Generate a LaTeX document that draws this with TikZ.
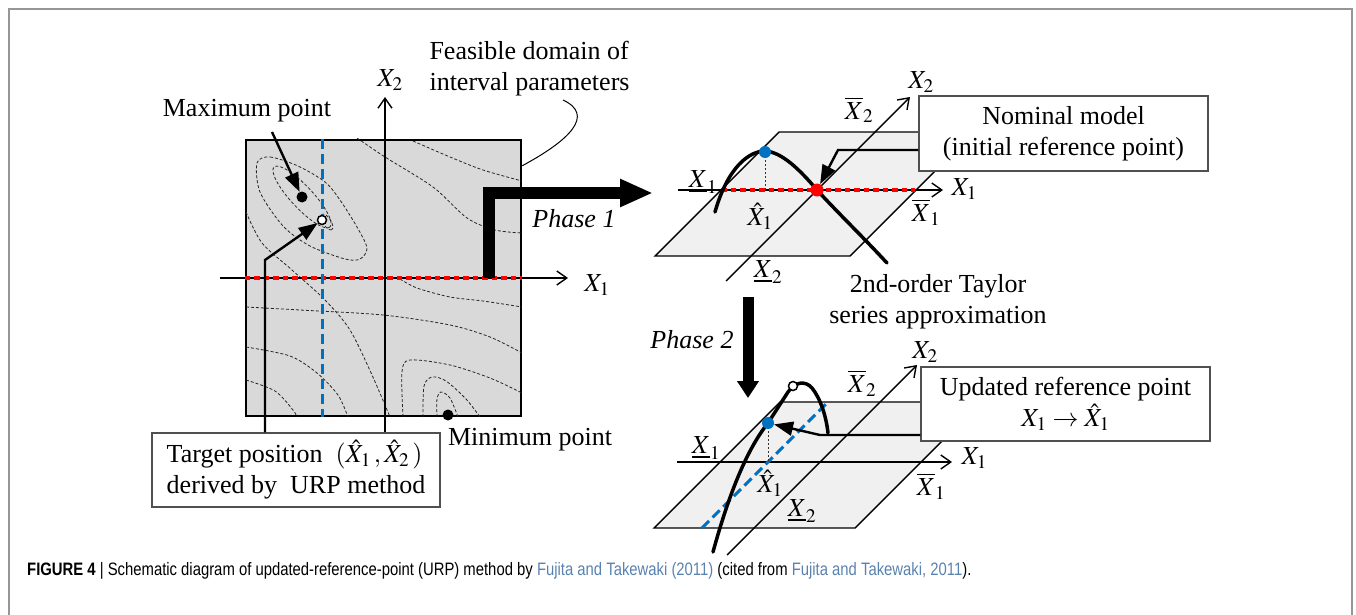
\documentclass[tikz,border=0pt]{standalone}
\usepackage{mathptmx}
\usepackage[no-math]{fontspec}
\setmainfont{Liberation Serif}
\newfontfamily\capfont[FakeStretch=0.825]{Liberation Sans}
\usetikzlibrary{arrows.meta,positioning,calc}
\definecolor{framegrey}{RGB}{150,150,150}
\definecolor{domgrey}{RGB}{217,217,217}
\definecolor{planegrey}{RGB}{240,240,240}
\definecolor{boxgrey}{RGB}{80,80,80}
\definecolor{dotred}{RGB}{255,0,0}
\definecolor{dotblue}{RGB}{0,112,192}
\definecolor{linkcol}{RGB}{90,130,175}
\tikzset{
  domainbox/.style={draw=black,fill=domgrey,line width=2.5pt,minimum width=275pt,
                    minimum height=276pt,inner sep=0pt},
  contour/.style={draw=black!85,dash pattern=on 3pt off 2pt,line width=0.8pt},
  axis/.style={-{Straight Barb[length=10pt,width=14pt]},line width=1.4pt},
  plane/.style={draw=black,fill=planegrey,line width=1.4pt},
  fcurve/.style={line width=3.5pt,line cap=round},
  pointer/.style={-{Triangle[length=19pt,width=14pt]},line width=2.4pt},
  phase/.style={line width=12pt},
  infobox/.style={draw=boxgrey,fill=white,line width=1.5pt,align=center,inner sep=0pt},
  reddots/.style={draw=dotred,line width=4.5pt,dash pattern=on 5.5pt off 4pt},
  bluedash/.style={draw=dotblue,line width=3pt,dash pattern=on 10pt off 5pt},
  thindot/.style={draw=black!80,line width=0.8pt,dash pattern=on 2pt off 2pt},
  leader/.style={draw=black,line width=1pt},
  bdot/.style={circle,fill=black,minimum size=11pt,inner sep=0pt},
  wdot/.style={circle,draw=black,fill=white,line width=1.5pt,minimum size=9pt,inner sep=0pt},
  reddot/.style={circle,fill=dotred,minimum size=13pt,inner sep=0pt},
  bluedot/.style={circle,fill=dotblue,minimum size=12pt,inner sep=0pt},
}

\begin{document}
\begin{tikzpicture}[x=1pt,y=-1pt,font=\fontsize{26}{31}\selectfont,line join=miter]
  \useasboundingbox (0,0) rectangle (1356,615);
  \draw[framegrey,line width=1.5pt] (9,615) -- (9,9) -- (1352,9) -- (1352,615);

  % left panel: feasible domain with contours
  \node[domainbox] (domain) at (383.5,278) {};
  \begin{scope}
    \clip (domain.south west) rectangle (domain.north east);
    \draw[contour,rotate around={-47:(302,197)}] (302,197) ellipse [x radius=41, y radius=11];
    \draw[contour,rotate around={-58:(327,222)}] (327,222) ellipse [x radius=9, y radius=4];
    \draw[contour] plot[smooth cycle] coordinates {(257,163) (270,157) (298,166) (325,182)
      (340,200) (357,227) (367,248) (360,259) (345,259) (310,246) (283,226) (260,192)};
    \draw[contour] plot[smooth] coordinates {(246,212) (262,243) (292,270) (325,300)
      (350,330) (372,375) (390,417)};
    \draw[contour] plot[smooth] coordinates {(357,138) (385,157) (433,187) (467,218)
      (495,230) (522,233)};
    \draw[contour] plot[smooth] coordinates {(413,141) (450,157) (483,170) (522,181)};
    \draw[contour] plot[smooth] coordinates {(400,279) (417,288) (450,297) (483,301) (522,307)};
    \draw[contour] plot[smooth] coordinates {(246,307) (300,310) (383,315) (450,325)
      (490,337) (522,353)};
    \draw[contour] plot[smooth] coordinates {(246,347) (290,356) (317,373) (338,395) (348,417)};
    \draw[contour] plot[smooth] coordinates {(246,380) (275,391) (293,410) (297,417)};
    \draw[contour] plot[smooth] coordinates {(403,417) (402,372) (410,360) (450,365)
      (490,378) (522,393)};
    \draw[contour] plot[smooth] coordinates {(423,417) (424,386) (432,377) (446,381)
      (466,399) (480,417)};
    \draw[contour] plot[smooth] coordinates {(437,417) (437,399) (441,392) (450,398) (458,417)};
  \end{scope}
  \coordinate (ax1Ls) at (220,278);
  \coordinate (ax1Le) at (568,278);
  \draw[axis] (ax1Ls) -- (ax1Le);
  \draw[reddots] (domain.west) -- (domain.east);
  \coordinate (tgtpos) at (322,220);
  \draw[bluedash] (tgtpos |- domain.north) -- (tgtpos |- domain.south);
  \node[infobox,align=left,inner xsep=7pt,minimum width=288pt,minimum height=74pt]
    (tgtbox) at (296,470)
    {Target position\ \ $(\hat{X}_1\,,\hat{X}_2\,)$\\derived by\ \ URP method};
  \coordinate (ax2Le) at (385,97);
  \draw[axis] (tgtbox.north -| ax2Le) -- (ax2Le);
  \node[bdot] (maxpt) at (302,197) {};
  \node[wdot] (tgt) at (tgtpos) {};
  \node[bdot] (minpt) at (448,415) {};
  \node (maxlbl) at (247,111) {Maximum point};
  \coordinate (maxtail) at (272,132);
  \draw[pointer] (maxtail) -- (maxpt);
  \coordinate (tgtbend) at (265,260);
  \draw[pointer] (tgtbox.north -| tgtbend) -- (tgtbend) -- (tgt);
  \node (minlbl) at (530,440) {Minimum point};
  \node[align=left,anchor=west] (feaslbl) at (426,69) {Feasible domain of\\interval parameters};
  \coordinate (feastail) at (563,100);
  \draw[leader] (feastail) .. controls (595,115) and (570,140) .. ([yshift=-27pt]domain.north east);
  \node (x2lblL) at (390,80) {$X_2$};
  \node (x1lblL) at (597,285) {$X_1$};

  % phase 1
  \coordinate (ph1a) at (489,278);
  \coordinate (ph1b) at (489,193);
  \coordinate (ph1c) at (653,193);
  \draw[phase,-{Triangle[length=33pt,width=26pt]}] (ph1a) -- (ph1b) -- (ph1c);
  \node (ph1lbl) at (574,219) {\textit{Phase 1}};

  % top right: nominal model
  \coordinate (pA1) at (779,132);
  \coordinate (pB1) at (974,132);
  \coordinate (pC1) at (850,256);
  \coordinate (pD1) at (655,256);
  \draw[plane] (pA1) -- (pB1) -- (pC1) -- (pD1) -- cycle;
  \coordinate (o1) at (817,190);
  \coordinate (a1s) at (678,190);
  \coordinate (a1e) at (943,190);
  \coordinate (a2s) at (726,281);
  \coordinate (a2e) at (910,97);
  \draw[axis] (a1s) -- (a1e);
  \draw[axis] (a2s) -- (a2e);
  \draw[reddots] (721,190) -- (915,190);
  \coordinate (pk1) at (765,152);
  \draw[thindot] (pk1) -- (pk1 |- o1);
  \draw[fcurve] (715,212) .. controls (728,166) and (750,151) .. (765,151)
    .. controls (782,152) and (800,170) .. (817,190)
    .. controls (840,215) and (862,236) .. (887,263);
  \node[bluedot] (bdot1) at (pk1) {};
  \node[reddot] (rdot1) at (o1) {};
  \node[infobox,minimum width=289pt,minimum height=75pt] (nombox) at (1063.5,133.5)
    {Nominal model\\(initial reference point)};
  \coordinate (nombend) at (838,150);
  \draw[pointer] (nombox.west |- nombend) -- (nombend) -- (rdot1);
  \node (x2lblT) at (921,82) {$X_2$};
  \node (x2barT) at (859,110) {$\overline{X}_2$};
  \node (x1undT) at (703,182) {$\underline{X}_1$};
  \node (x1hatT) at (760,216) {$\hat{X}_1$};
  \node (x1barT) at (926,212) {$\overline{X}_1$};
  \node[anchor=west] (x1lblT) at (948,189) {$X_1$};
  \node (x2undT) at (768,272) {$\underline{X}_2$};
  \node[align=center] (taylbl) at (938,302) {2nd-order Taylor\\series approximation};

  % phase 2
  \coordinate (ph2a) at (748,297);
  \coordinate (ph2b) at (748,398);
  \draw[line width=11pt,-{Triangle[length=17pt,width=21pt]}] (ph2a) -- (ph2b);
  \node (ph2lbl) at (692,340) {\textit{Phase 2}};

  % bottom right: updated reference point
  \coordinate (pA2) at (780,402);
  \coordinate (pB2) at (981,402);
  \coordinate (pC2) at (855,528);
  \coordinate (pD2) at (654,528);
  \draw[plane] (pA2) -- (pB2) -- (pC2) -- (pD2) -- cycle;
  \coordinate (b1s) at (677,462);
  \coordinate (b1e) at (952,462);
  \coordinate (b2s) at (727,555);
  \coordinate (b2e) at (917,365);
  \draw[axis] (b1s) -- (b1e);
  \draw[axis] (b2s) -- (b2e);
  \draw[bluedash] (702,528) -- (828,402);
  \coordinate (pk2) at (768,423);
  \draw[thindot] (pk2) -- (pk2 |- b1s);
  \draw[fcurve] (713,552) .. controls (730,490) and (748,448) .. (768,423)
    -- (788,392) .. controls (795,382) and (805,380) .. (812,388)
    .. controls (820,398) and (826,415) .. (828,433);
  \node[bluedot] (bdot2) at (pk2) {};
  \node[wdot] (wdot2) at (793,386) {};
  \node[infobox,minimum width=289pt,minimum height=74pt] (updbox) at (1065.5,404)
    {Updated reference point\\$X_1 \to \hat{X}_1$};
  \coordinate (updbend) at (820,435);
  \draw[pointer] (updbox.west |- updbend) -- (updbend) -- (bdot2);
  \node (x2lblB) at (925,352) {$X_2$};
  \node (x2barB) at (862,383) {$\overline{X}_2$};
  \node (x1undB) at (706,448) {$\underline{X}_1$};
  \node (x1hatB) at (770,483) {$\hat{X}_1$};
  \node (x2undB) at (802,511) {$\underline{X}_2$};
  \node (x1barB) at (931,486) {$\overline{X}_1$};
  \node[anchor=west] (x1lblB) at (958,458) {$X_1$};

  % caption
  \node[anchor=west,inner sep=0pt,font=\capfont\fontsize{18}{21}\selectfont] (caption) at (27,571)
    {\textbf{FIGURE 4} | Schematic diagram of updated-reference-point (URP) method by
     \textcolor{linkcol}{Fujita and Takewaki (2011)} (cited from
     \textcolor{linkcol}{Fujita and Takewaki, 2011}).};
\end{tikzpicture}
\end{document}
